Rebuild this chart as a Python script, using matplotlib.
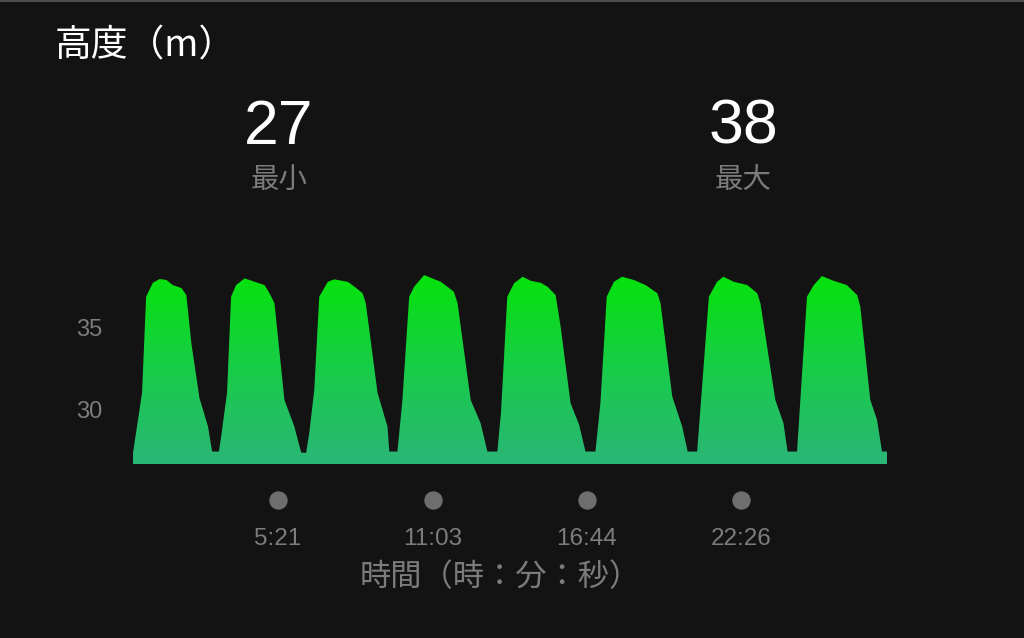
import numpy as np
import matplotlib
matplotlib.use("Agg")
import matplotlib.pyplot as plt
from matplotlib.colors import LinearSegmentedColormap
from matplotlib.transforms import blended_transform_factory

plt.rcParams['font.family'] = ['Noto Sans CJK JP', 'DejaVu Sans']
num_font = ['Liberation Sans', 'DejaVu Sans']

# elapsed time (s) and altitude (m)
time_s = [0, 20, 29, 44, 59, 74, 88, 107, 118, 129, 147, 166, 175, 190,
          195, 208, 217, 228, 247, 269, 291, 302, 313, 335, 357, 372, 383,
          390, 401, 412, 431, 445, 475, 490, 508, 515, 541, 563, 567, 585,
          596, 611, 622, 644, 681, 710, 718, 747, 769, 784, 806,
          814, 828, 843, 862, 880, 902, 917, 935, 946, 968, 987, 1001, 1023,
          1034, 1048, 1064, 1082, 1108, 1134, 1160, 1167, 1193, 1215, 1227, 1248,
          1255, 1274, 1292, 1306, 1329, 1359, 1381, 1388, 1421, 1439, 1448, 1469,
          1473, 1491, 1506, 1524, 1550, 1579, 1602, 1609, 1631, 1646, 1657, 1668]
altitude = [27.38, 31.04, 36.91, 37.76, 37.99, 37.93, 37.62, 37.44, 37.01, 34.09, 30.73, 28.98, 27.46, 27.46,
            28.37, 31.04, 36.91, 37.62, 38.03, 37.82, 37.62, 37.12, 36.51, 30.61, 28.98, 27.40, 27.38,
            28.60, 31.22, 36.91, 37.82, 37.97, 37.82, 37.52, 37.12, 36.51, 31.04, 28.98, 27.46, 27.46,
            30.61, 36.91, 37.52, 38.23, 37.82, 37.21, 36.51, 30.61, 29.19, 27.46, 27.46,
            29.82, 36.91, 37.73, 38.13, 37.88, 37.76, 37.52, 37.01, 35.08, 30.41, 29.09, 27.46, 27.46,
            30.41, 36.91, 37.82, 38.13, 37.93, 37.62, 37.12, 36.51, 30.81, 28.98, 27.46, 27.46,
            30.00, 36.91, 37.82, 38.13, 37.82, 37.62, 37.12, 36.51, 30.61, 29.19, 27.46, 27.46,
            29.19, 36.91, 37.62, 38.17, 37.88, 37.62, 37.01, 36.30, 30.61, 29.39, 27.46, 27.46]

tick_pos = [321, 663, 1004, 1346]
tick_labels = ['5:21', '11:03', '16:44', '22:26']
y_ticks = [30, 35]
min_val = '27'
max_val = '38'

bg = '#131313'
grey = '#7c7c7c'

fig = plt.figure(figsize=(10.24, 6.38), dpi=100, facecolor=bg)
ax = fig.add_axes([133 / 1024, 1 - 464 / 638, 754 / 1024, 204 / 638])
ax.set_facecolor(bg)

y0, y1 = 26.7, 39.15
x0, x1 = 0, 1668

cmap = LinearSegmentedColormap.from_list('alt', ['#2bb677', '#18cc48', '#05e30a'])
grad = np.linspace(0, 1, 256).reshape(-1, 1)
im = ax.imshow(grad, extent=[x0, x1, y0, 38.3], aspect='auto', cmap=cmap,
               origin='lower', interpolation='bilinear')
poly = ax.fill_between(time_s, y0, altitude, facecolor='none', edgecolor='none')
im.set_clip_path(poly.get_paths()[0], transform=ax.transData)

ax.set_xlim(x0, x1)
ax.set_ylim(y0, y1)
for s in ax.spines.values():
    s.set_visible(False)
ax.set_xticks([])
ax.set_yticks(y_ticks)
ax.set_yticklabels([str(v) for v in y_ticks], family=num_font)
ax.tick_params(axis='y', length=0, pad=22, labelsize=17, labelcolor=grey)

trans = blended_transform_factory(ax.transData, ax.transAxes)
ax.scatter(tick_pos, [-36 / 204] * len(tick_pos), s=150, color='#6e6e6e',
           transform=trans, clip_on=False, zorder=3)
for p, lab in zip(tick_pos, tick_labels):
    ax.text(p, -75 / 204, lab, transform=trans, ha='center', va='center',
            fontsize=17.5, color=grey, family=num_font)

fig.text(500 / 1024, 1 - 577 / 638, '時間（時：分：秒）', ha='center', va='center',
         fontsize=22.5, color=grey)

fig.text(55 / 1024, 1 - 46 / 638, '高度（m）', ha='left', va='center',
         fontsize=26.5, color='white')

for cx, val, lab in [(279, min_val, '最小'), (743, max_val, '最大')]:
    fig.text(cx / 1024, 1 - 127 / 638, val, ha='center', va='center',
             fontsize=45, color='white', family=num_font)
    fig.text(cx / 1024, 1 - 180 / 638, lab, ha='center', va='center',
             fontsize=20.5, color=grey)

# thin top border
fig.add_artist(plt.Line2D([0, 1], [0.999, 0.999], color='#5a5a5a', lw=1.2,
                          transform=fig.transFigure))

fig.savefig('out.png', dpi=100, facecolor=bg)
